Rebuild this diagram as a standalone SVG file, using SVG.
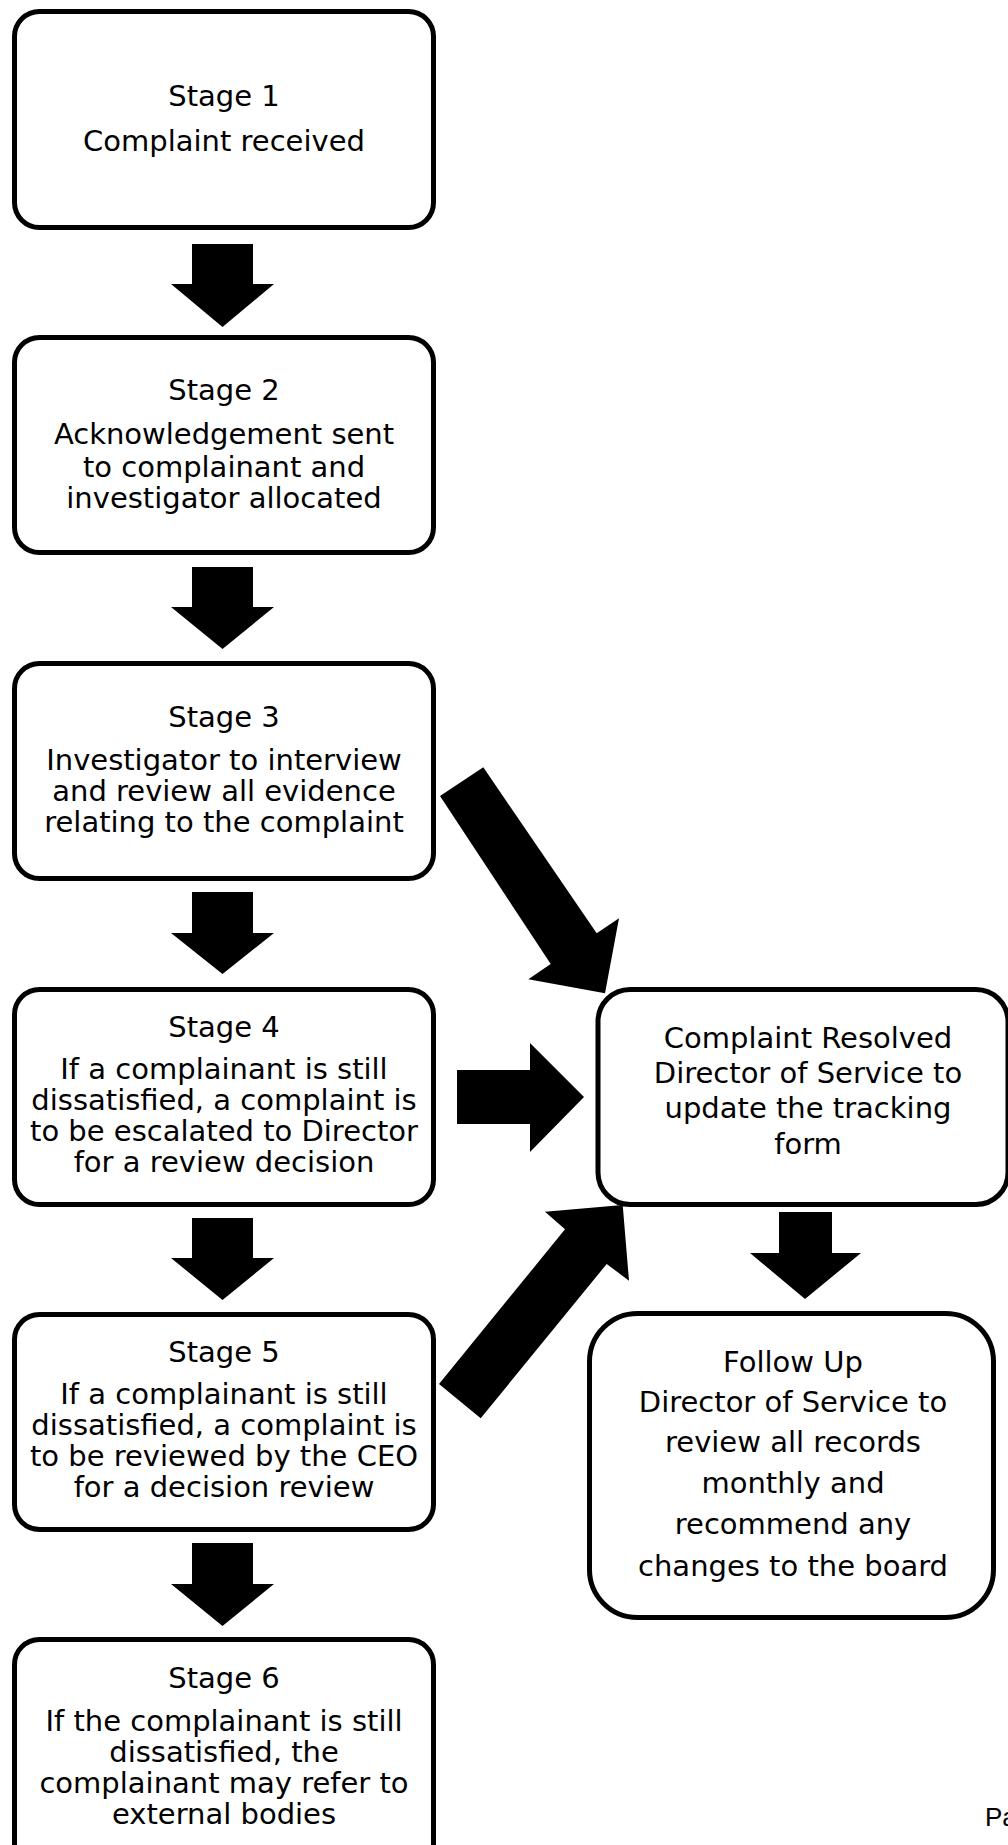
<svg xmlns="http://www.w3.org/2000/svg" width="1008" height="1845" viewBox="0 0 1008 1845">
<style>
.box{fill:#fff;stroke:#000;stroke-width:5}
.t{font-family:"DejaVu Sans",Verdana,sans-serif;font-size:29px;fill:#000;text-anchor:middle}
.r{font-family:"DejaVu Sans",Verdana,sans-serif;font-size:29px;fill:#000;text-anchor:middle}
.arr{fill:#000}
</style>
<rect width="1008" height="1845" fill="#fff"/>
<g id="connectors">
<polygon class="arr" points="192,244 253,244 253,284 274,284 222.5,327 171,284 192,284"/>
<polygon class="arr" points="192,567 253,567 253,607 274,607 222.5,649 171,607 192,607"/>
<polygon class="arr" points="192,892 253,892 253,933 274,933 222.5,974 171,933 192,933"/>
<polygon class="arr" points="192,1218 253,1218 253,1258 274,1258 222.5,1300 171,1258 192,1258"/>
<polygon class="arr" points="192,1543 253,1543 253,1584 274,1584 222.5,1626 171,1584 192,1584"/>
<polygon class="arr" points="779,1212 832,1212 832,1253 861,1253 805,1299 750,1253 779,1253"/>
<polygon class="arr" points="457,1070 530,1070 530,1043 584,1097 530,1152 530,1124 457,1124"/>
<polygon class="arr" points="440,796 483.3,767.3 596.7,933.3 619,918.3 605,993.3 528.3,979.3 550.7,964"/>
<polygon class="arr" points="439,1384 565,1229.3 545,1211.7 622.7,1205 629,1280.7 606.7,1264 480.7,1418.3"/>
</g>
<g id="stage1">
<rect class="box" x="14.5" y="11.5" width="419" height="216" rx="25"/>
<text class="t" x="224" y="106">Stage 1</text>
<text class="t" x="224" y="151">Complaint received</text>
</g>
<g id="stage2">
<rect class="box" x="14.5" y="337.5" width="419" height="215" rx="25"/>
<text class="t" x="224" y="400">Stage 2</text>
<text class="t" x="224" y="444">Acknowledgement sent</text>
<text class="t" x="224" y="477">to complainant and</text>
<text class="t" x="224" y="508">investigator allocated</text>
</g>
<g id="stage3">
<rect class="box" x="14.5" y="663.5" width="419" height="215" rx="25"/>
<text class="t" x="224" y="727">Stage 3</text>
<text class="t" x="224" y="770">Investigator to interview</text>
<text class="t" x="224" y="801">and review all evidence</text>
<text class="t" x="224" y="832">relating to the complaint</text>
</g>
<g id="stage4">
<rect class="box" x="14.5" y="989.5" width="419" height="215" rx="25"/>
<text class="t" x="224" y="1037">Stage 4</text>
<text class="t" x="224" y="1079">If a complainant is still</text>
<text class="t" x="224" y="1110">dissatisfied, a complaint is</text>
<text class="t" x="224" y="1141">to be escalated to Director</text>
<text class="t" x="224" y="1172">for a review decision</text>
</g>
<g id="stage5">
<rect class="box" x="14.5" y="1314.5" width="419" height="215" rx="25"/>
<text class="t" x="224" y="1362">Stage 5</text>
<text class="t" x="224" y="1404">If a complainant is still</text>
<text class="t" x="224" y="1435">dissatisfied, a complaint is</text>
<text class="t" x="224" y="1466">to be reviewed by the CEO</text>
<text class="t" x="224" y="1497">for a decision review</text>
</g>
<g id="stage6">
<rect class="box" x="14.5" y="1639.5" width="419" height="240" rx="25"/>
<text class="t" x="224" y="1688">Stage 6</text>
<text class="t" x="224" y="1731">If the complainant is still</text>
<text class="t" x="224" y="1762">dissatisfied, the</text>
<text class="t" x="224" y="1793">complainant may refer to</text>
<text class="t" x="224" y="1824">external bodies</text>
</g>
<g id="resolved">
<rect class="box" x="598" y="989.5" width="410" height="215" rx="32"/>
<text class="r" x="808" y="1048">Complaint Resolved</text>
<text class="r" x="808" y="1083">Director of Service to</text>
<text class="r" x="808" y="1118">update the tracking</text>
<text class="r" x="808" y="1154">form</text>
</g>
<g id="followup">
<rect class="box" x="589.5" y="1313.5" width="404" height="304" rx="48"/>
<text class="r" x="793" y="1372">Follow Up</text>
<text class="r" x="793" y="1412">Director of Service to</text>
<text class="r" x="793" y="1452">review all records</text>
<text class="r" x="793" y="1493">monthly and</text>
<text class="r" x="793" y="1534">recommend any</text>
<text class="r" x="793" y="1576">changes to the board</text>
</g>
<text x="985" y="1826" font-family="Liberation Sans, Arial, sans-serif" font-size="26" fill="#000">Pa</text>
</svg>
